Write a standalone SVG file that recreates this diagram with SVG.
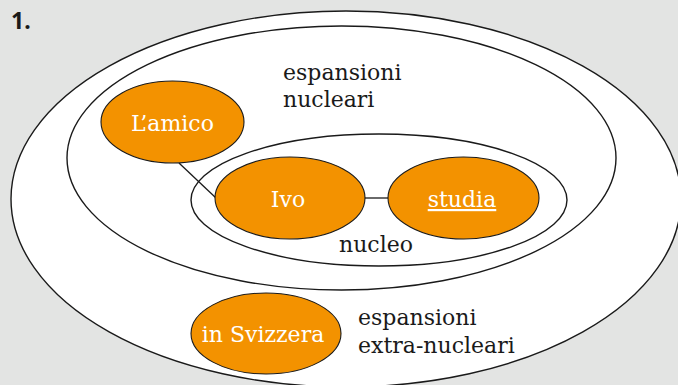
<svg xmlns="http://www.w3.org/2000/svg" width="678" height="385" viewBox="0 0 678 385">
<style>
.ring{fill:#ffffff;stroke:#1a1a1a;stroke-width:1.4}
.node{fill:#f39200;stroke:#1a1a1a;stroke-width:1.1}
.nt{font-family:"DejaVu Serif","Liberation Serif",serif;font-size:22px;fill:#ffffff;text-anchor:middle}
.lbl{font-family:"DejaVu Serif","Liberation Serif",serif;font-size:22px;fill:#1a1a1a}
.conn{stroke:#1a1a1a;stroke-width:1.3;fill:none}
</style>
<rect width="678" height="385" fill="#e3e4e3"/>
<text x="11" y="29" font-family="'Noto Sans','Liberation Sans',sans-serif" font-weight="bold" font-size="23" fill="#1a1a1a">1.</text>
<g id="extra-nucleo">
<ellipse class="ring" cx="346" cy="199" rx="335" ry="188"/>
</g>
<g id="espansioni-nucleari">
<ellipse class="ring" cx="341.5" cy="158" rx="274.5" ry="132"/>
</g>
<g id="nucleo">
<ellipse class="ring" cx="379" cy="200" rx="188" ry="66"/>
</g>
<g id="connectors">
<line class="conn" x1="179" y1="163" x2="216" y2="198"/>
<line class="conn" x1="365" y1="198" x2="388" y2="198"/>
</g>
<g id="lamico">
<ellipse class="node" cx="172.5" cy="122" rx="71.5" ry="41"/>
<text class="nt" x="172.5" y="131">L’amico</text>
</g>
<g id="ivo">
<ellipse class="node" cx="290" cy="198" rx="75" ry="41"/>
<text class="nt" x="288" y="207">Ivo</text>
</g>
<g id="studia">
<ellipse class="node" cx="463.5" cy="198" rx="75.5" ry="41"/>
<text class="nt" x="462" y="207" text-decoration="underline">studia</text>
</g>
<g id="in-svizzera">
<ellipse class="node" cx="266" cy="333.5" rx="75" ry="40.5"/>
<text class="nt" x="263" y="342">in Svizzera</text>
</g>
<g id="labels">
<text class="lbl" x="283" y="80">espansioni</text>
<text class="lbl" x="283" y="107">nucleari</text>
<text class="lbl" x="339" y="252">nucleo</text>
<text class="lbl" x="358" y="325">espansioni</text>
<text class="lbl" x="358" y="353">extra-nucleari</text>
</g>
</svg>
